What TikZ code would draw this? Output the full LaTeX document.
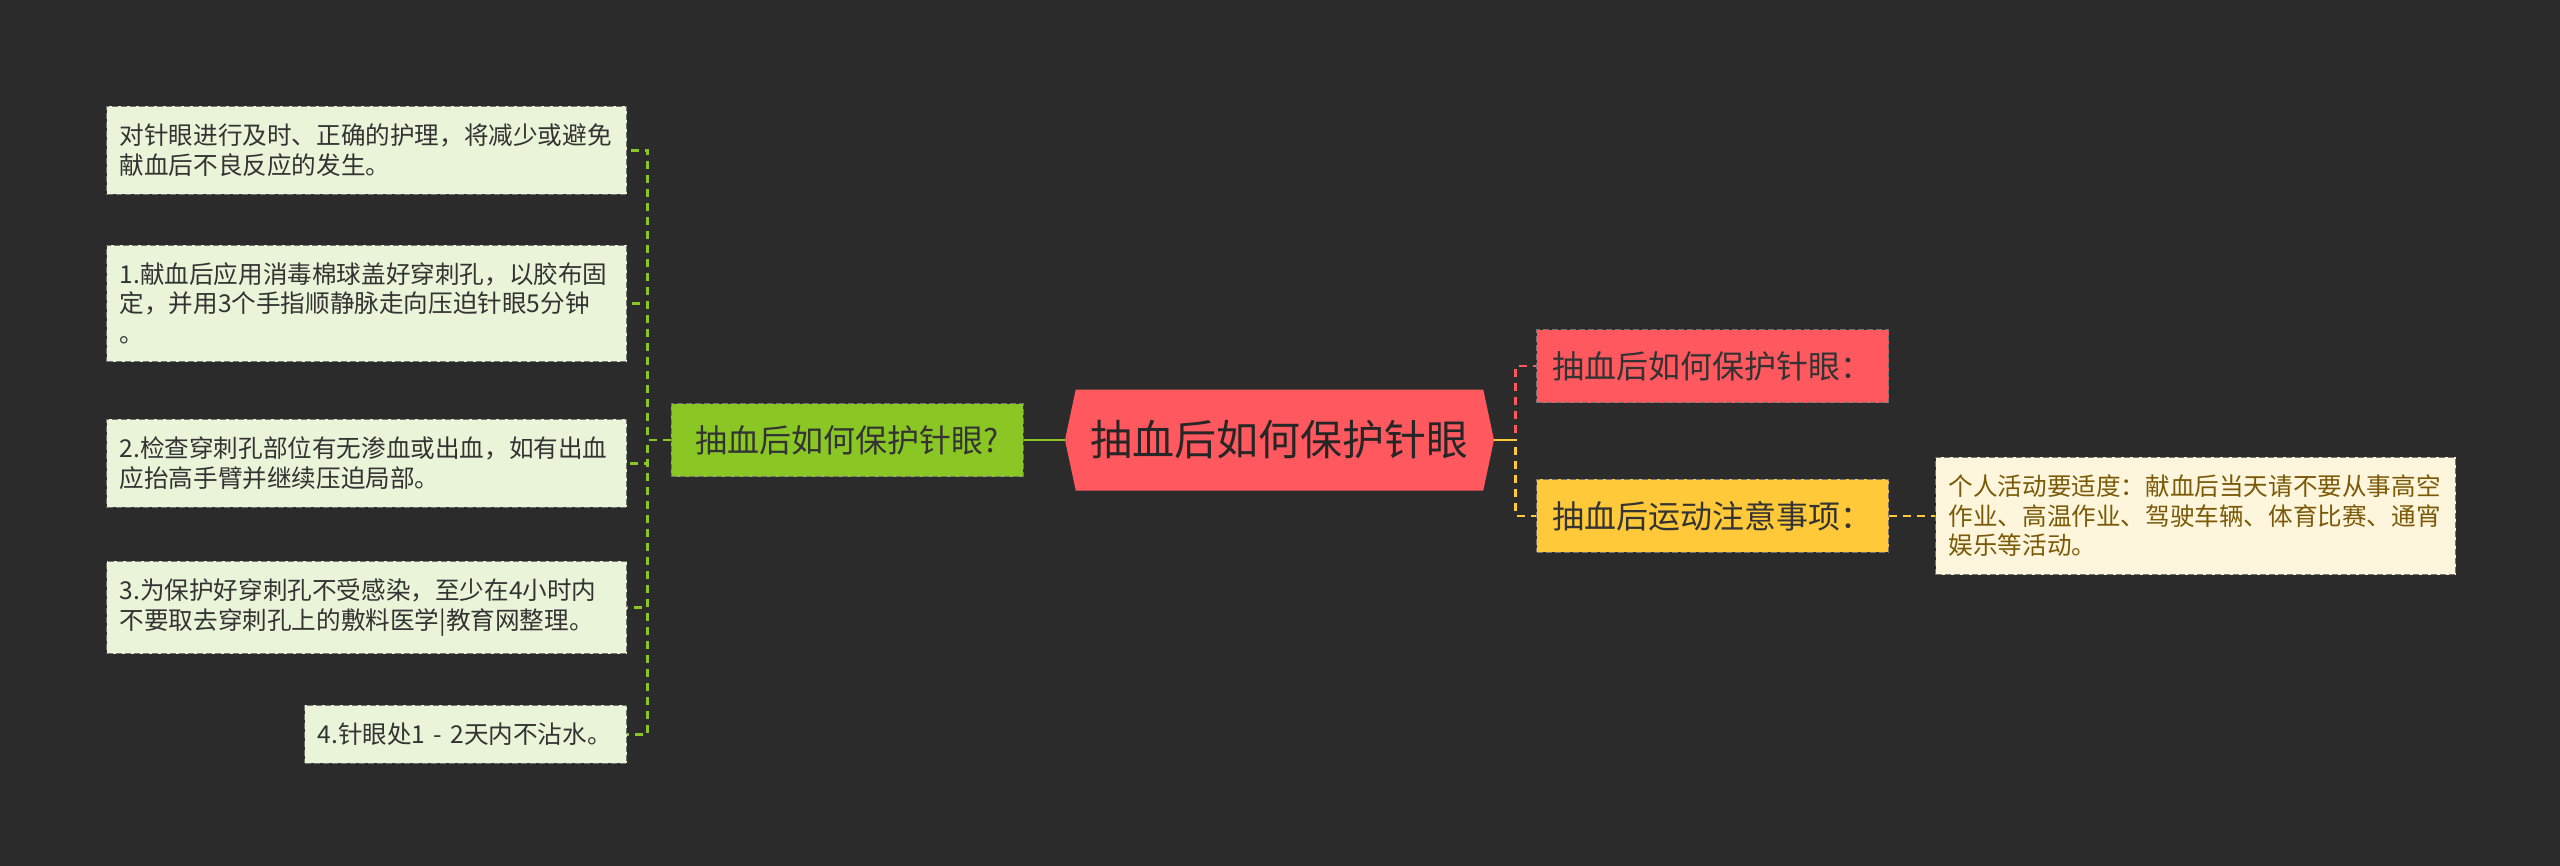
\documentclass[tikz,border=0pt]{standalone}
\usepackage{fontspec}
\setmainfont{Noto Sans CJK SC}
\usepackage{tikz}
\usetikzlibrary{positioning,shapes.symbols}
\definecolor{bgdark}{HTML}{2B2B2B}
\definecolor{leaffill}{HTML}{E9F4D8}
\definecolor{notefill}{HTML}{FEF6DC}
\definecolor{notetext}{HTML}{7A5A08}
\definecolor{inktext}{HTML}{333333}
\definecolor{askgreen}{HTML}{8BC724}
\definecolor{rootred}{HTML}{FF585E}
\definecolor{sportyellow}{HTML}{FFC93A}
\tikzstyle{leaf} = [
rectangle,
fill=leaffill,
draw=black!55,
dash pattern=on 3pt off 1.5pt,
text=inktext,
text width=247pt,
align=left,
inner xsep=6.5pt,
inner ysep=8.8pt,
font=\fontsize{12.3}{14.8}\selectfont
]
\tikzstyle{note} = [
leaf,
fill=notefill,
text=notetext
]
\tikzstyle{topic} = [
rectangle,
draw=black!55,
dash pattern=on 3pt off 1.5pt,
text=inktext,
minimum width=176pt,
minimum height=36.5pt,
inner xsep=5pt,
font=\fontsize{16}{19}\selectfont
]
\tikzstyle{root} = [
signal,
signal to=east and west,
signal pointer angle=156,
fill=rootred,
text=black!85,
minimum width=214.5pt,
minimum height=50.5pt,
inner xsep=4pt,
font=\fontsize{21}{25}\selectfont
]
\tikzstyle{link} = [
line width=1.3pt,
dash pattern=on 4pt off 3pt
]
\begin{document}
\begin{tikzpicture}
					%Background
					\fill[bgdark] (0pt,0pt) rectangle (1280pt,-433pt);
					\useasboundingbox (0pt,0pt) rectangle (1280pt,-433pt);
					%Nodes
					\node[root] (root) at (639.75pt,-220pt) {抽血后如何保护针眼};
					\node[topic,fill=askgreen,left=20.5pt of root] (ask) {抽血后如何保护针眼?};
					\node[topic,fill=rootred,above right=18.5pt and 21pt of root.east] (protect) {抽血后如何保护针眼：};
					\node[topic,fill=sportyellow,below right=19.5pt and 21pt of root.east] (sport) {抽血后运动注意事项：};
					\node[note,right=23pt of sport] (activity) {个人活动要适度：献血后当天请不要从事高空\\作业、高温作业、驾驶车辆、体育比赛、通宵\\娱乐等活动。};
					\node[leaf,anchor=north east] (care) at (313.5pt,-53pt) {对针眼进行及时、正确的护理，将减少或避免\\献血后不良反应的发生。};
					\node[leaf,below=25pt of care] (press) {1.献血后应用消毒棉球盖好穿刺孔，以胶布固\\定，并用3个手指顺静脉走向压迫针眼5分钟\\。};
					\node[leaf,below=28.5pt of press] (check) {2.检查穿刺孔部位有无渗血或出血，如有出血\\应抬高手臂并继续压迫局部。};
					\node[leaf,below=26.5pt of check] (dress) {3.为保护好穿刺孔不受感染，至少在4小时内\\不要取去穿刺孔上的敷料医学|教育网整理。};
					\node[leaf,text width=148pt,below=25.5pt of dress.south east,anchor=north east] (water) {4.针眼处1 - 2天内不沾水。};
					%Links
					\foreach \leafname in {care,press,check,dress,water}
						\draw[link,askgreen] (ask.west) -- ++(-11.5pt,0) |- (\leafname.east);
					\draw[line width=1.3pt,askgreen] (root.west) -- (ask.east);
					\draw[link,rootred] (root.east) -- ++(10.5pt,0) |- (protect.west);
					\draw[link,sportyellow] (root.east) -- ++(10.5pt,0) |- (sport.west);
					\draw[line width=1.3pt,sportyellow] (root.east) -- ++(10.5pt,0);
					\draw[link,sportyellow] (sport.east) -- (activity.west);
				\end{tikzpicture}
\end{document}
